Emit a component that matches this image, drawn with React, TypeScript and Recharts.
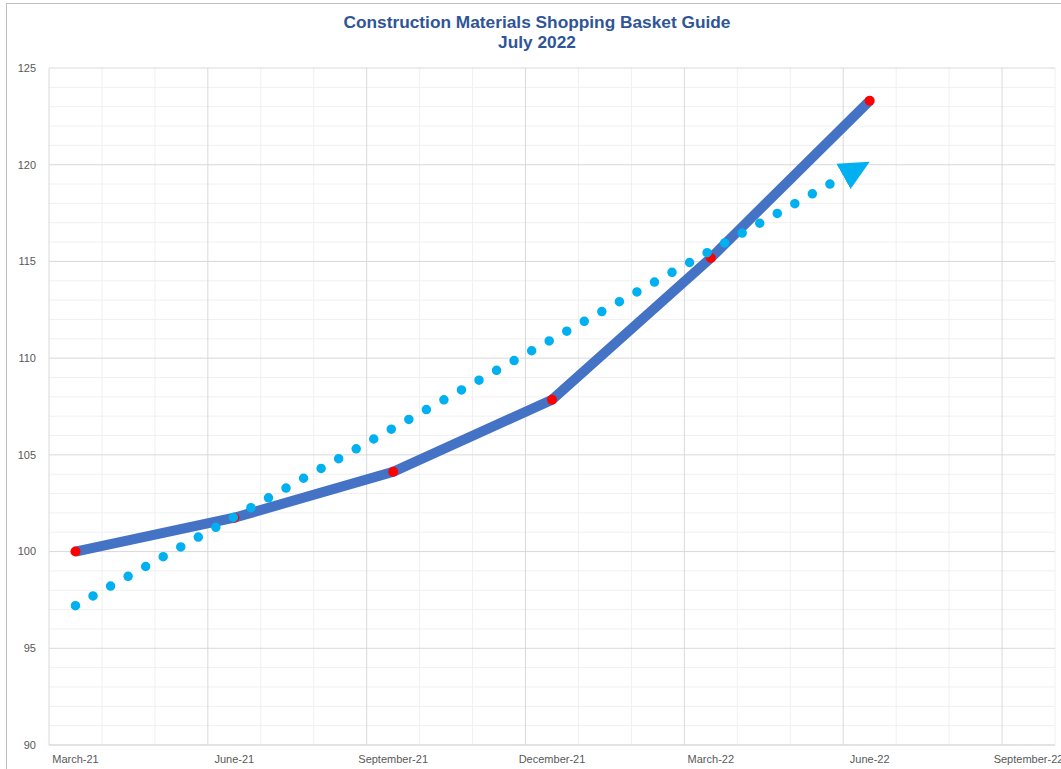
import React from 'react';
import { LineChart, Line, XAxis, YAxis, ReferenceLine } from 'recharts';

// ---- data ----
const tickLabels = ['March-21', 'June-21', 'September-21', 'December-21', 'March-22', 'June-22', 'September-22'];
const tickMonthIndex = [0, 3, 6, 9, 12, 15, 18];

const basketMonthIndex = [0, 3, 6, 9, 12, 15];
const basketValues = [100, 101.75, 104.13, 107.85, 115.18, 123.31];

const trendMonthIndex = [0, 15];
const trendValues = [97.2, 120.15];

const yTicks = [90, 95, 100, 105, 110, 115, 120, 125];

// grid positions (month slot boundaries / unit steps)
const monthCount = 19;
const slotBoundaries = Array.from({ length: monthCount + 1 }, (_, k) => k - 0.5);
const majorX = slotBoundaries.filter((_, k) => k % 3 === 0 && k < monthCount);
const minorX = slotBoundaries.filter((_, k) => !(k % 3 === 0 && k < monthCount));
const yUnits = Array.from({ length: 36 }, (_, k) => 90 + k);
const minorY = yUnits.filter((v) => v % 5 !== 0);

const basketData = basketMonthIndex.map((m, i) => ({ m, value: basketValues[i] }));
const trendData = trendMonthIndex.map((m, i) => ({ m, trend: trendValues[i] }));

// round-dot pattern that stops before the arrow head
const DOT_STEP = 20.1;
const trendDash = Array.from({ length: 43 }, () => `0 ${DOT_STEP}`).join(' ') + ' 0 2000';

const FONT = '"Liberation Sans", Arial, sans-serif';
const TICK = { fill: '#595959', fontSize: 11, fontFamily: FONT };

const RedDot = (props: any) => {
  const { cx, cy, index } = props;
  if (cx == null || cy == null) return <g key={`d${index}`} />;
  return <circle key={`d${index}`} cx={cx} cy={cy} r={5} fill="#FF0000" stroke="none" />;
};

export default function App() {
  return (
    <div
      style={{
        position: 'absolute',
        left: 0,
        top: 0,
        width: 1061,
        height: 769,
        overflow: 'hidden',
        background: '#ffffff',
      }}
    >
      <svg width={0} height={0} style={{ position: 'absolute' }}>
        <defs>
          <marker
            id="trendArrow"
            markerUnits="userSpaceOnUse"
            markerWidth={31}
            markerHeight={31}
            viewBox="0 0 31 31"
            refX={30}
            refY={15.5}
            orient="auto"
          >
            <path d="M0,1 L30,15.5 L0,30 Z" fill="#00B0F0" stroke="none" />
          </marker>
        </defs>
      </svg>
      <div
        style={{
          position: 'absolute',
          left: 6,
          top: 3,
          width: 1100,
          height: 800,
          border: '1px solid #BFBFBF',
          boxSizing: 'border-box',
        }}
      />
      <div
        style={{
          position: 'absolute',
          left: 0,
          top: 12,
          width: 1074,
          textAlign: 'center',
          fontFamily: FONT,
          fontWeight: 'bold',
          fontSize: 17.3,
          lineHeight: '20px',
          color: '#2F5597',
        }}
      >
        <div>Construction Materials Shopping Basket Guide</div>
        <div>July 2022</div>
      </div>
      <div style={{ position: 'absolute', left: 0, top: 0 }}>
        <LineChart width={1061} height={769} margin={{ top: 68, right: 6, bottom: 0, left: 0 }}>
          <XAxis
            dataKey="m"
            type="number"
            domain={[-0.5, 18.5]}
            ticks={tickMonthIndex}
            interval={0}
            tickFormatter={(v: number) => tickLabels[tickMonthIndex.indexOf(v)] ?? ''}
            tick={TICK}
            tickLine={false}
            tickSize={6}
            tickMargin={4}
            height={24}
            axisLine={{ stroke: '#D9D9D9' }}
            allowDataOverflow
          />
          <YAxis
            type="number"
            domain={[90, 125]}
            ticks={yTicks}
            interval={0}
            tick={TICK}
            tickLine={false}
            axisLine={false}
            tickSize={6}
            tickMargin={7}
            width={49}
            allowDataOverflow
          />
          {minorY.map((v) => (
            <ReferenceLine key={`my${v}`} y={v} stroke="#F0F0F0" strokeWidth={1} ifOverflow="visible" />
          ))}
          {minorX.map((v) => (
            <ReferenceLine key={`mx${v}`} x={v} stroke="#F0F0F0" strokeWidth={1} ifOverflow="visible" />
          ))}
          {yTicks.map((v) => (
            <ReferenceLine key={`Y${v}`} y={v} stroke="#D9D9D9" strokeWidth={1} ifOverflow="visible" />
          ))}
          {majorX.map((v) => (
            <ReferenceLine key={`X${v}`} x={v} stroke="#D9D9D9" strokeWidth={1} ifOverflow="visible" />
          ))}
          <Line
            data={basketData}
            dataKey="value"
            type="linear"
            stroke="#4472C4"
            strokeWidth={10}
            dot={RedDot}
            activeDot={false}
            isAnimationActive={false}
          />
          <Line
            data={trendData}
            dataKey="trend"
            type="linear"
            stroke="#00B0F0"
            strokeWidth={9.5}
            strokeDasharray={trendDash}
            strokeLinecap="round"
            markerEnd="url(#trendArrow)"
            dot={false}
            activeDot={false}
            isAnimationActive={false}
            {...({ zIndex: 1500 } as any)}
          />
        </LineChart>
      </div>
    </div>
  );
}
